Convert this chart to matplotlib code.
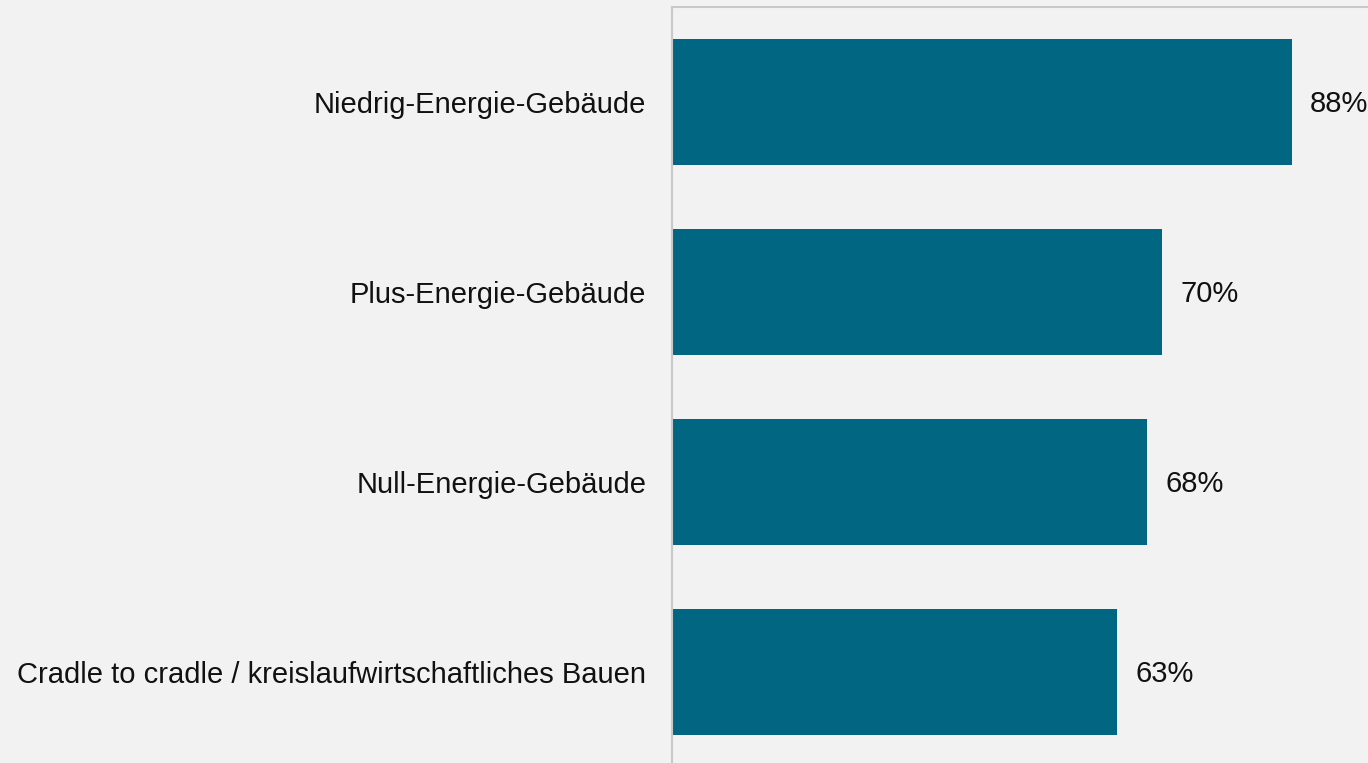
import matplotlib
matplotlib.use("Agg")
import matplotlib.pyplot as plt

categories = [
    "Niedrig-Energie-Gebäude",
    "Plus-Energie-Gebäude",
    "Null-Energie-Gebäude",
    "Cradle to cradle / kreislaufwirtschaftliches Bauen",
]
values = [88.2, 69.7, 67.6, 63.3]
labels = ["88%", "70%", "68%", "63%"]

bg = "#f2f2f2"
bar_color = "#006682"
plt.rcParams['font.family'] = ['Liberation Sans', 'DejaVu Sans']

fig = plt.figure(figsize=(13.68, 7.63), dpi=100, facecolor=bg)
ax = fig.add_axes([672/1368, -4/763, 696/1368, 760/763], facecolor=bg)

y = list(range(len(categories)))
ax.barh(y, values, height=0.66, color=bar_color, zorder=2)
ax.set_xlim(0, 99)
ax.set_ylim(3.5, -0.5)
ax.set_yticks(y)
ax.set_yticklabels(categories, fontsize=21, color="#111111")
ax.tick_params(axis='y', length=0, pad=18.5)
ax.set_xticks([])
for s in ["right", "bottom"]:
    ax.spines[s].set_visible(False)
for s in ["left", "top"]:
    ax.spines[s].set_color("#c8c8c8")
    ax.spines[s].set_linewidth(1.5)

for yi, v, lab in zip(y, values, labels):
    ax.annotate(lab, xy=(v, yi), xytext=(13, -1.5), textcoords="offset points",
                ha="left", va="center", fontsize=21, color="#111111")

fig.savefig("out.png", dpi=100, facecolor=bg)
